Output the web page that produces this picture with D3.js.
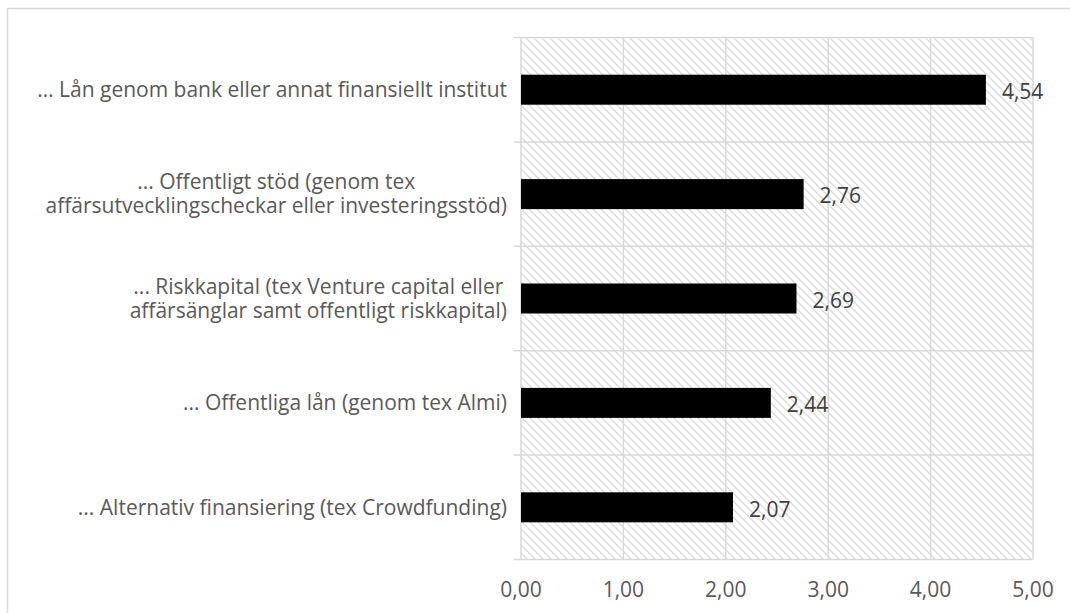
<!DOCTYPE html>
<html>
<head>
<meta charset="utf-8">
<script src="https://cdn.jsdelivr.net/npm/d3@7"></script>
<style>
  html, body { margin: 0; padding: 0; background: #fff; }
  svg { display: block; }
  text { font-family: "Open Sans", Lato, sans-serif; }
</style>
</head>
<body>
<svg id="chart" width="1070" height="613"></svg>
<script>
// ---- data ----
const categories = [
  ["… Lån genom bank eller annat finansiellt institut"],
  ["... Offentligt stöd (genom tex", "affärsutvecklingscheckar eller investeringsstöd)"],
  ["... Riskkapital (tex Venture capital eller", "affärsänglar samt offentligt riskkapital)"],
  ["... Offentliga lån (genom tex Almi)"],
  ["... Alternativ finansiering (tex Crowdfunding)"]
];
const values = [4.54, 2.76, 2.69, 2.44, 2.07];
const xTicks = [0, 1, 2, 3, 4, 5];
const fmt = v => d3.format(".2f")(v).replace(".", ",");

// ---- layout ----
const svg = d3.select("#chart");
const pLeft = 521, pRight = 1033, pTop = 37.5, pBottom = 559.5;
const fontSize = 21;
const labelRight = 507;

const defs = svg.append("defs");
const pat = defs.append("pattern")
  .attr("id", "hatch").attr("patternUnits", "userSpaceOnUse")
  .attr("width", 8).attr("height", 8);
pat.append("rect").attr("width", 8).attr("height", 8).attr("fill", "#ffffff");
pat.append("path").attr("d", "M-2,-2 L10,10 M-2,6 L2,10 M6,-2 L10,2")
  .attr("stroke", "#dadada").attr("stroke-width", 1.3);

// outer border (cropped at right/bottom)
svg.append("rect").attr("x", 7.5).attr("y", 8.5).attr("width", 1200).attr("height", 800)
  .attr("fill", "#fff").attr("stroke", "#d9d9d9").attr("stroke-width", 1.5);

const x = d3.scaleLinear().domain([0, 5]).range([pLeft, pRight]);
const y = d3.scaleBand().domain(d3.range(categories.length)).range([pTop, pBottom]).paddingInner(0).paddingOuter(0);

// plot background hatch
svg.append("rect").attr("x", pLeft).attr("y", pTop)
  .attr("width", pRight - pLeft).attr("height", pBottom - pTop)
  .attr("fill", "url(#hatch)");

// vertical gridlines
svg.append("g").selectAll("line").data(xTicks).join("line")
  .attr("x1", d => x(d)).attr("x2", d => x(d))
  .attr("y1", pTop).attr("y2", pBottom)
  .attr("stroke", "#d9d9d9").attr("stroke-width", 1.5);

// horizontal band lines (with tick extension)
const bounds = d3.range(categories.length + 1).map(i => i === categories.length ? pBottom : y(i));
svg.append("g").selectAll("line").data(bounds).join("line")
  .attr("x1", pLeft - 7).attr("x2", pRight)
  .attr("y1", d => d).attr("y2", d => d)
  .attr("stroke", "#d9d9d9").attr("stroke-width", 1.5);

// bars
const barH = 30;
svg.append("g").selectAll("rect").data(values).join("rect")
  .attr("x", x(0))
  .attr("y", (d, i) => y(i) + y.bandwidth() / 2 - barH / 2)
  .attr("width", d => x(d) - x(0))
  .attr("height", barH)
  .attr("fill", "#000");

// value labels
svg.append("g").selectAll("text").data(values).join("text")
  .attr("x", d => x(d) + 16)
  .attr("y", (d, i) => y(i) + y.bandwidth() / 2 + 2)
  .attr("dy", "0.35em")
  .attr("font-size", fontSize)
  .attr("fill", "#404040")
  .text(d => fmt(d));

// x tick labels
svg.append("g").selectAll("text").data(xTicks).join("text")
  .attr("x", d => x(d)).attr("y", 590)
  .attr("dy", "0.35em")
  .attr("text-anchor", "middle")
  .attr("font-size", fontSize)
  .attr("fill", "#595959")
  .text(d => fmt(d));

// category labels: wrapped lines centered within block, block right-aligned
const lineH = 24;
categories.forEach((lines, i) => {
  const g = svg.append("g");
  const cy = y(i) + y.bandwidth() / 2;
  const texts = lines.map((l, j) => g.append("text")
    .attr("y", cy + (j - (lines.length - 1) / 2) * lineH)
    .attr("dy", "0.35em")
    .attr("font-size", fontSize)
    .attr("fill", "#595959")
    .attr("text-anchor", "middle")
    .text(l));
  const widths = texts.map(t => t.node().getComputedTextLength());
  const maxW = d3.max(widths);
  texts.forEach(t => t.attr("x", labelRight - maxW / 2));
});
</script>
</body>
</html>
